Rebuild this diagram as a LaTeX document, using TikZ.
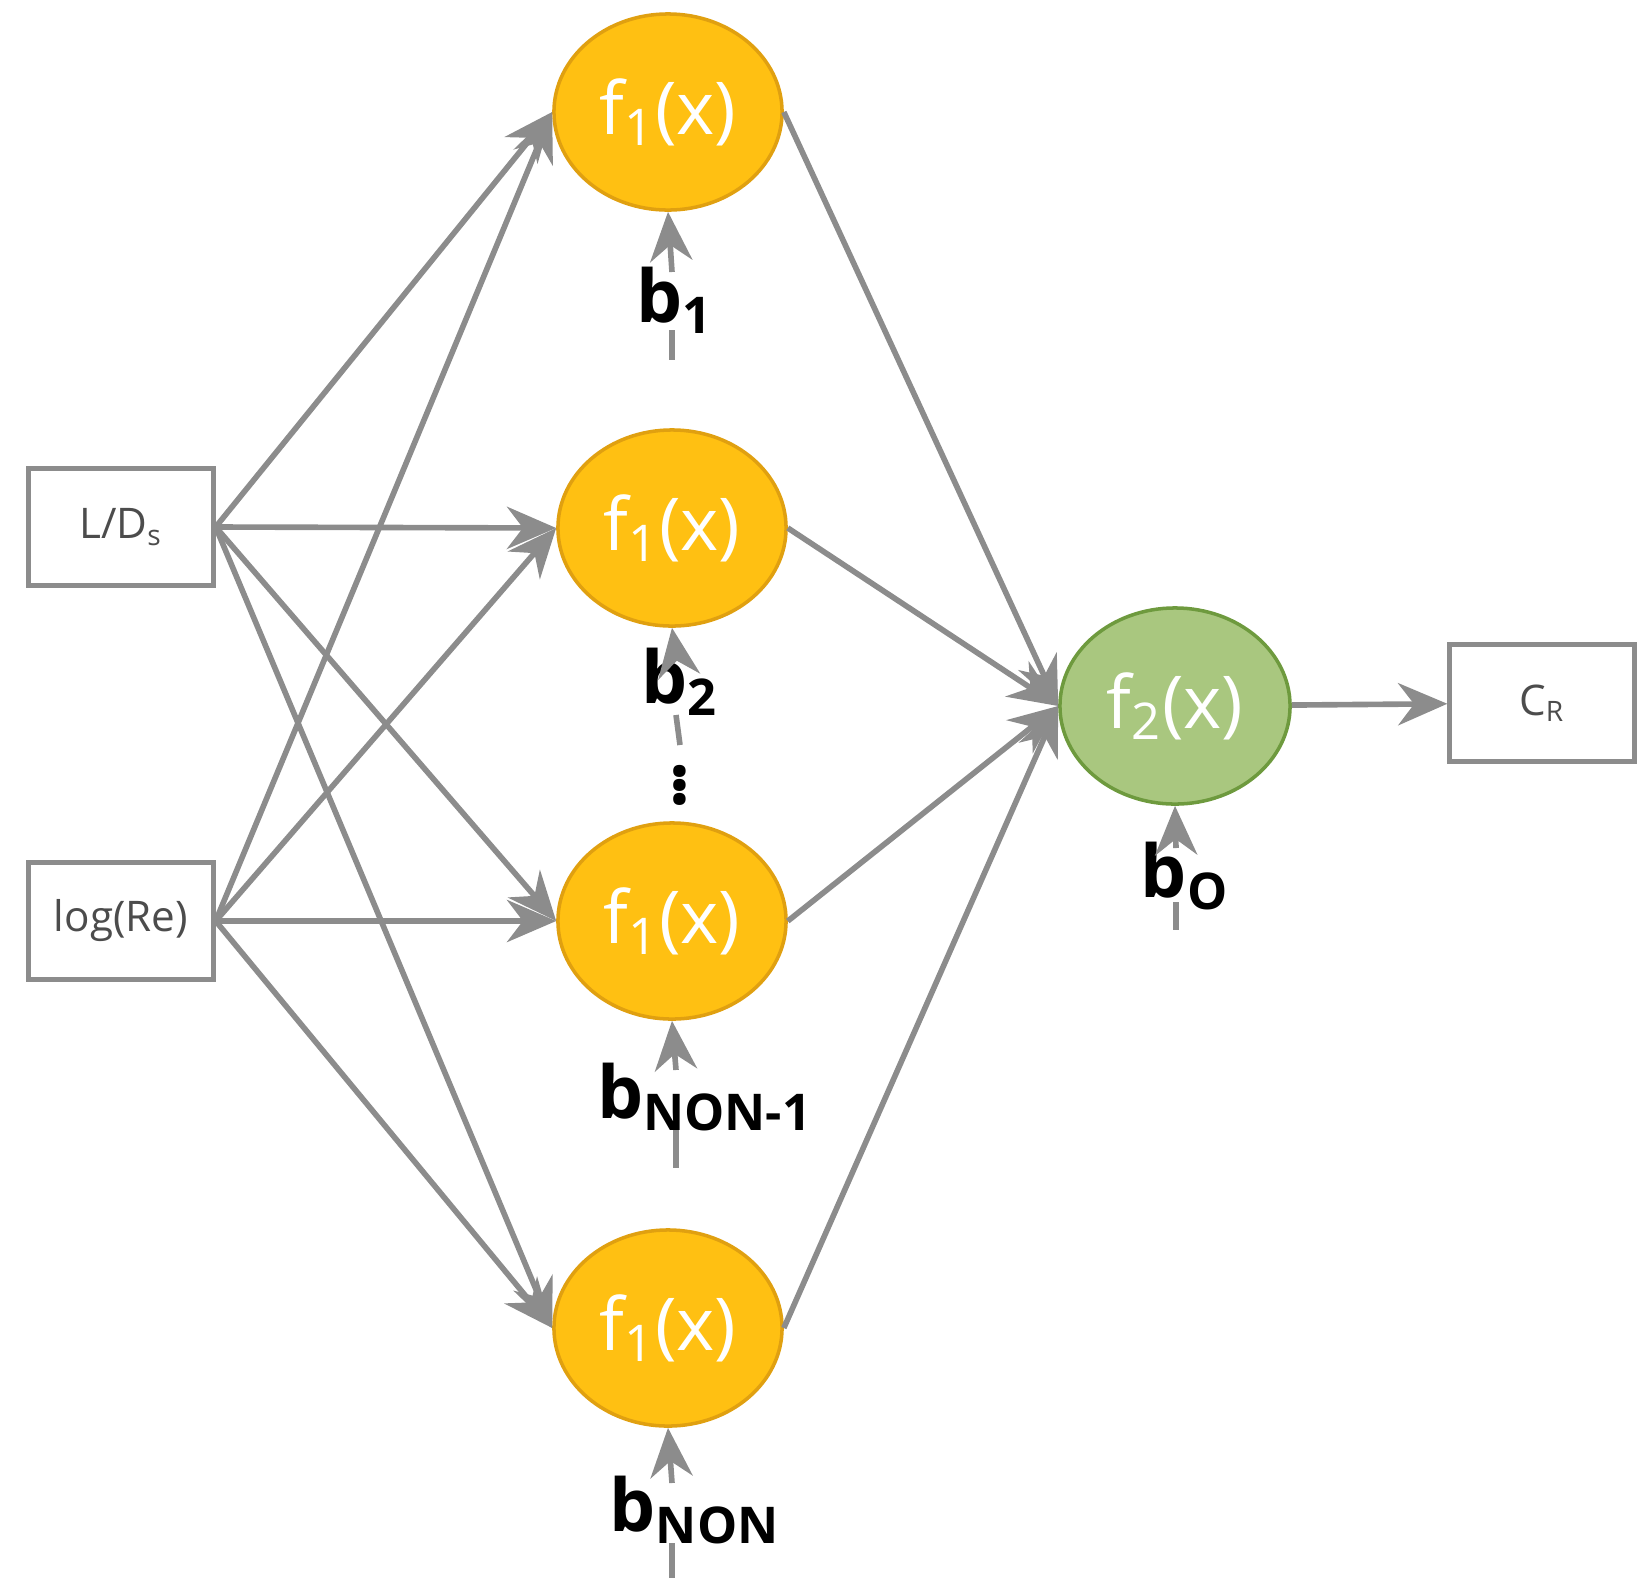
\documentclass[tikz,border=0pt]{standalone}
\usepackage{fontspec}
\setmainfont{Open Sans}
\usetikzlibrary{shapes.geometric,arrows.meta}
\definecolor{org}{HTML}{FFC012}
\definecolor{orgd}{HTML}{E0A010}
\definecolor{grn}{HTML}{A9C77F}
\definecolor{grnd}{HTML}{6E9A3E}
\definecolor{ln}{HTML}{8C8C8C}
\begin{document}
\begin{tikzpicture}[x=0.01cm,y=-0.01cm,
 box/.style={draw=ln,line width=1.2pt,minimum width=1.85cm,minimum height=1.17cm,text=black!70,font=\large},
 hid/.style={ellipse,draw=orgd,fill=org,line width=1pt,minimum width=2.28cm,minimum height=1.96cm,text=white,font=\huge},
 outn/.style={ellipse,draw=grnd,fill=grn,line width=1pt,minimum width=2.3cm,minimum height=1.96cm,text=white,font=\huge},
 con/.style={draw=ln,line width=1.6pt,-{Stealth[length=14pt,width=12pt]}},
 pl/.style={draw=ln,line width=1.6pt},
 bl/.style={font=\bfseries\huge,text=black,inner sep=2pt}]
\useasboundingbox (0,0) rectangle (1648,1593);
\node[box] (in1) at (121,527) {L/D\textsubscript{s}};
\node[box] (in2) at (121,921) {log(Re)};
\node[hid] (h1) at (668,112) {f\textsubscript{1}(x)};
\node[hid] (h2) at (672,528) {f\textsubscript{1}(x)};
\node[hid] (h3) at (672,921) {f\textsubscript{1}(x)};
\node[hid] (h4) at (668,1328) {f\textsubscript{1}(x)};
\node[outn] (o) at (1175,706) {f\textsubscript{2}(x)};
\node[box] (cr) at (1542,703) {C\textsubscript{R}};
\foreach \i in {in1,in2}{\foreach \h in {h1,h2,h3,h4}{\draw[con] (\i.east) -- (\h.west);}}
\foreach \h in {h1,h2,h3,h4}{\draw[con] (\h.east) -- (o.west);}
\draw[con] (o) -- (cr);
\node[bl] (b1) at (675,300) {b\textsubscript{1}};
\node[bl] (b2) at (680,682) {b\textsubscript{2}};
\node[bl] (b3) at (705,1097) {b\textsubscript{NON-1}};
\node[bl] (b4) at (695,1510) {b\textsubscript{NON}};
\node[bl] (b0) at (1185,876) {b\textsubscript{O}};
\coordinate (e1) at (672,360); \coordinate (e3) at (676,1168);
\coordinate (e4) at (672,1578); \coordinate (e0) at (1176,930);
\coordinate (e2) at (680,745);
\node[font=\huge\bfseries] (dots) at (680,775) {$\vdots$};
\draw[con] (672,272) -- (h1.south); \draw[pl] (672,330) -- (e1);
\draw[con] (676,655) -- (h2.south); \draw[pl] (676,715) -- (e2);
\draw[con] (676,1070) -- (h3.south); \draw[pl] (676,1130) -- (e3);
\draw[con] (672,1483) -- (h4.south); \draw[pl] (672,1543) -- (e4);
\draw[con] (1176,848) -- (o.south); \draw[pl] (1176,902) -- (e0);
\end{tikzpicture}
\end{document}
